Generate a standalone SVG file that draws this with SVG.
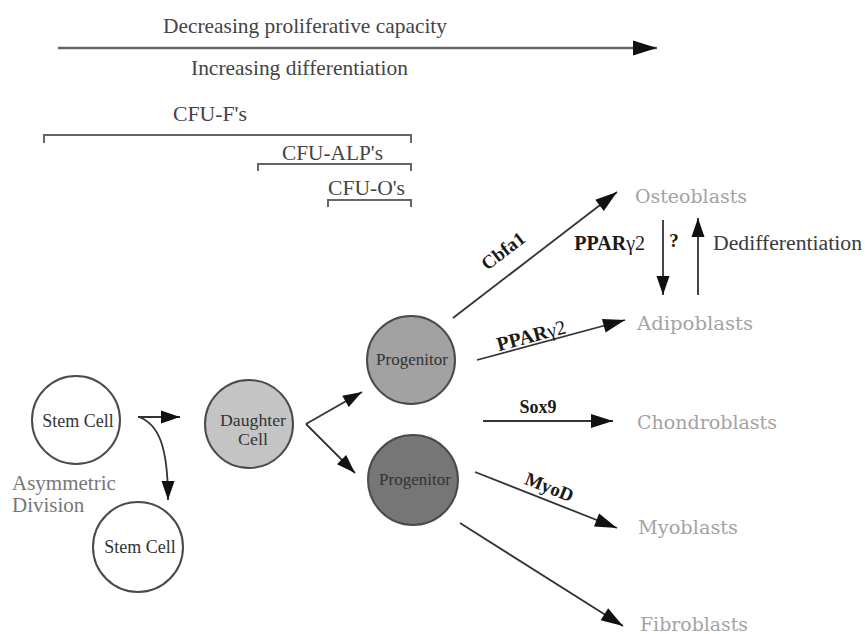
<svg xmlns="http://www.w3.org/2000/svg" width="865" height="634" viewBox="0 0 865 634">
<defs>
<marker id="ah" markerUnits="userSpaceOnUse" markerWidth="22" markerHeight="14" refX="22" refY="7" orient="auto" overflow="visible">
<path d="M0,0 L22,7 L0,14 z" fill="#111"/>
</marker>
<marker id="ahs" markerUnits="userSpaceOnUse" markerWidth="19" markerHeight="13" refX="19" refY="6.5" orient="auto" overflow="visible">
<path d="M0,0 L19,6.5 L0,13 z" fill="#111"/>
</marker>
<marker id="ahtop" markerUnits="userSpaceOnUse" markerWidth="24" markerHeight="15" refX="24" refY="7.5" orient="auto" overflow="visible">
<path d="M0,0 L24,7.5 L0,15 z" fill="#111"/>
</marker>
</defs>
<style>
.lbl{font-family:"Liberation Serif","Times New Roman",serif;fill:#3a3a3a;}
.top{font-size:21px;fill:#444;}
.cfu{font-size:20px;fill:#444;}
.cell{font-family:"DejaVu Serif",serif;font-size:18px;fill:#a3a3a3;}
.b{font-weight:bold;fill:#1a1a1a;}
.ctext{font-family:"Liberation Serif","Times New Roman",serif;font-size:18px;fill:#333;text-anchor:middle;}
.circ{stroke:#4a4a4a;stroke-width:2;}
.con{stroke:#333;stroke-width:1.8;fill:none;}
.br{stroke:#666;stroke-width:2;fill:none;}
</style>
<rect width="865" height="634" fill="#fff"/>

<g id="gradient-axis">
<text class="lbl top" x="163" y="33" textLength="284" lengthAdjust="spacingAndGlyphs">Decreasing proliferative capacity</text>
<line x1="58" y1="48" x2="657" y2="48" stroke="#666" stroke-width="2.5" marker-end="url(#ahtop)"/>
<text class="lbl top" x="191" y="75" textLength="217" lengthAdjust="spacingAndGlyphs">Increasing differentiation</text>
</g>

<g id="cfu-ranges">
<text class="lbl cfu" x="173" y="121" textLength="74" lengthAdjust="spacingAndGlyphs">CFU-F's</text>
<path class="br" d="M44,143 V135 H411 V143"/>
<text class="lbl cfu" x="282" y="160" textLength="101" lengthAdjust="spacingAndGlyphs">CFU-ALP's</text>
<path class="br" d="M258,171 V164 H411 V171"/>
<text class="lbl cfu" x="328" y="195" textLength="77" lengthAdjust="spacingAndGlyphs">CFU-O's</text>
<path class="br" d="M328,207 V200 H411 V207" stroke-width="3"/>
</g>

<g id="stem-cell-1">
<circle class="circ" cx="76" cy="420" r="44" fill="#fff"/>
<text class="ctext" x="78" y="427">Stem Cell</text>
</g>
<g id="asymmetric-division-label">
<text class="lbl" x="12" y="490" style="font-size:21px;fill:#777">Asymmetric</text>
<text class="lbl" x="12" y="512" style="font-size:21px;fill:#777">Division</text>
</g>
<g id="stem-cell-2">
<circle class="circ" cx="138" cy="547" r="45" fill="#fff"/>
<text class="ctext" x="140" y="553">Stem Cell</text>
</g>
<g id="daughter-cell">
<circle class="circ" cx="249" cy="424" r="44" fill="#c4c4c4"/>
<text class="ctext" x="253" y="426" style="font-size:16px" textLength="66" lengthAdjust="spacingAndGlyphs">Daughter</text>
<text class="ctext" x="253" y="445" style="font-size:16px" textLength="30" lengthAdjust="spacingAndGlyphs">Cell</text>
</g>
<g id="progenitor-1">
<circle class="circ" cx="411" cy="360" r="44" fill="#a2a2a2"/>
<text class="ctext" x="412" y="365" style="font-size:17px">Progenitor</text>
</g>
<g id="progenitor-2">
<circle class="circ" cx="413" cy="480" r="45" fill="#767676"/>
<text class="ctext" x="415" y="485" style="font-size:17px">Progenitor</text>
</g>

<g id="osteoblasts"><text class="cell" x="635" y="203" textLength="112" lengthAdjust="spacingAndGlyphs">Osteoblasts</text></g>
<g id="adipoblasts"><text class="cell" x="637" y="330" textLength="116" lengthAdjust="spacingAndGlyphs">Adipoblasts</text></g>
<g id="chondroblasts"><text class="cell" x="637" y="429" textLength="140" lengthAdjust="spacingAndGlyphs">Chondroblasts</text></g>
<g id="myoblasts"><text class="cell" x="638" y="534" textLength="100" lengthAdjust="spacingAndGlyphs">Myoblasts</text></g>
<g id="fibroblasts"><text class="cell" x="640" y="631" textLength="108" lengthAdjust="spacingAndGlyphs">Fibroblasts</text></g>

<g id="connectors">
<line class="con" x1="138" y1="417" x2="180" y2="417" marker-end="url(#ahs)"/>
<path class="con" d="M139,417 C158,424 168,445 168,500" marker-end="url(#ahs)"/>
<line class="con" x1="306" y1="424" x2="362" y2="392" marker-end="url(#ahs)"/>
<line class="con" x1="306" y1="424" x2="355" y2="473" marker-end="url(#ahs)"/>
<line class="con" x1="453" y1="318" x2="617" y2="192" marker-end="url(#ah)"/>
<line class="con" x1="477" y1="360" x2="625" y2="320" marker-end="url(#ah)"/>
<line class="con" x1="663" y1="220" x2="663" y2="295" marker-end="url(#ahs)"/>
<line class="con" x1="698" y1="295" x2="698" y2="218" marker-end="url(#ahs)"/>
<line class="con" x1="483" y1="421" x2="613" y2="421" marker-end="url(#ah)"/>
<line class="con" x1="475" y1="472" x2="617" y2="528" marker-end="url(#ah)"/>
<line class="con" x1="460" y1="523" x2="623" y2="626" marker-end="url(#ah)"/>
</g>

<g id="connector-labels">
<text class="lbl b" style="font-size:19px" text-anchor="middle" transform="translate(507,256) rotate(-37.5)">Cbfa1</text>
<text class="lbl" style="font-size:20px" text-anchor="middle" transform="translate(533,342) rotate(-15)"><tspan font-weight="bold" fill="#1a1a1a">PPAR</tspan><tspan fill="#1a1a1a">γ2</tspan></text>
<text class="lbl b" style="font-size:18px" x="538" y="413" text-anchor="middle">Sox9</text>
<text class="lbl b" style="font-size:19px" text-anchor="middle" transform="translate(547,493) rotate(21.5)">MyoD</text>
<text class="lbl" style="font-size:20px" x="645" y="250" text-anchor="end"><tspan font-weight="bold" fill="#1a1a1a">PPAR</tspan><tspan fill="#1a1a1a">γ2</tspan></text>
<text class="lbl b" style="font-size:19px" x="674" y="247" text-anchor="middle">?</text>
<text class="lbl" style="font-size:20px" x="713" y="250" textLength="149" lengthAdjust="spacingAndGlyphs">Dedifferentiation</text>
</g>
</svg>
